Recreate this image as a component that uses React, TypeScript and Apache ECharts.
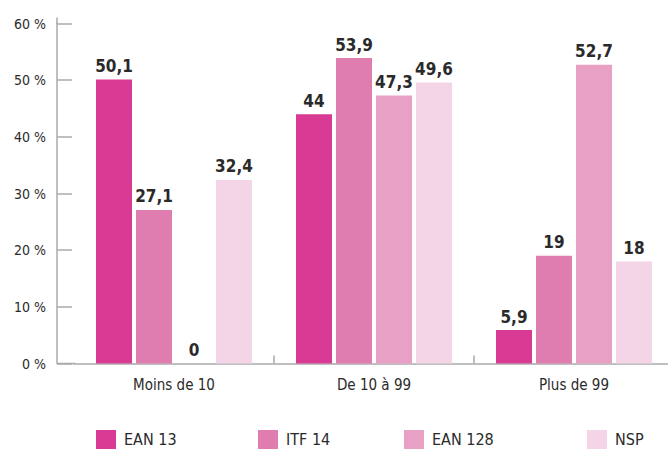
import React, { useEffect, useRef } from "react";
import * as echarts from "echarts";

const categories = ["Moins de 10", "De 10 à 99", "Plus de 99"];
const seriesNames = ["EAN 13", "ITF 14", "EAN 128", "NSP"];
const ean13 = [50.1, 44, 5.9];
const itf14 = [27.1, 53.9, 19];
const ean128 = [0, 47.3, 52.7];
const nsp = [32.4, 49.6, 18];
const colors = ["#d93b94", "#e07db0", "#e8a1c5", "#f4d4e7"];
const legendLefts = [96, 258, 404, 587];

const FONT = "'DejaVu Sans Condensed', 'Liberation Sans Narrow', 'Roboto', sans-serif";
const TEXT = "#2a2a2a";
const AXIS = "#aaaaaa";

export default function App() {
  const ref = useRef<HTMLDivElement>(null);
  useEffect(() => {
    if (!ref.current) return;
    const chart = echarts.init(ref.current, null, { renderer: "svg" });
    const values = [ean13, itf14, ean128, nsp];
    chart.setOption({
      animation: false,
      textStyle: { fontFamily: FONT },
      grid: { left: 74, top: 23.5, width: 600, height: 340, outerBoundsMode: "none", containLabel: false },
      xAxis: {
        type: "category",
        data: categories,
        axisLine: { show: true, lineStyle: { color: AXIS, width: 1.5 } },
        axisTick: {
          show: true,
          inside: true,
          length: 8,
          lineStyle: { color: AXIS, width: 1.5 },
          interval: (index: number) => index !== 0,
        },
        axisLabel: { margin: 14, fontSize: 15, color: TEXT, fontFamily: FONT },
      },
      yAxis: {
        type: "value",
        min: 0,
        max: 60,
        interval: 10,
        offset: 17,
        axisLine: { show: true, lineStyle: { color: AXIS, width: 1.5 } },
        axisTick: { show: true, inside: true, length: 15, lineStyle: { color: AXIS, width: 1.5 } },
        axisLabel: { formatter: "{value} %", margin: 11, fontSize: 14, color: TEXT, fontFamily: FONT },
        splitLine: { show: false },
      },
      legend: seriesNames.map((n, i) => ({
        data: [n],
        left: legendLefts[i],
        top: 430,
        padding: 0,
        itemWidth: 20,
        itemHeight: 19,
        icon: "rect",
        selectedMode: false,
        textStyle: { fontSize: 16, color: TEXT, fontFamily: FONT, padding: [0, 0, 0, 3] },
      })),
      graphic: [
        {
          type: "line",
          shape: { x1: 57, y1: 363.5, x2: 75, y2: 363.5 },
          style: { stroke: AXIS, lineWidth: 1.5 },
        },
        {
          type: "line",
          shape: { x1: 57, y1: 17.5, x2: 57, y2: 24 },
          style: { stroke: AXIS, lineWidth: 1.5 },
        },
      ],
      series: seriesNames.map((n, i) => ({
        name: n,
        type: "bar",
        data: values[i],
        barWidth: 36,
        barGap: "11.1%",
        itemStyle: { color: colors[i] },
        label: {
          show: true,
          position: "top",
          distance: 5,
          fontSize: 17,
          fontWeight: "bold",
          color: TEXT,
          fontFamily: FONT,
          formatter: (p: any) => String(p.value).replace(".", ","),
        },
      })),
    });
    return () => chart.dispose();
  }, []);
  return (
    <div
      ref={ref}
      style={{ position: "absolute", left: 0, top: 0, width: 668, height: 450 }}
    />
  );
}
